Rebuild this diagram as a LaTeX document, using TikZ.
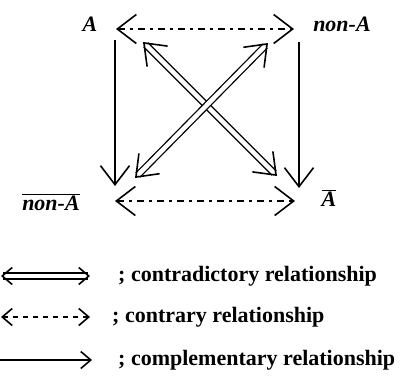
\documentclass[tikz,border=0pt]{standalone}
\usepackage{fontspec}
\setmainfont{Liberation Serif}
\usetikzlibrary{arrows.meta,positioning}

\begin{document}
\begin{tikzpicture}[
  x=1pt,y=-1pt,
  lbl/.style={font=\fontsize{22}{25}\selectfont\bfseries\itshape,inner sep=0pt},
  txt/.style={font=\fontsize{22}{25}\selectfont\bfseries,inner sep=0pt,anchor=west},
  bigbarb/.tip={Straight Barb[length=19pt,width=29pt,line width=1.6pt]},
  diagbarb/.tip={Straight Barb[length=19pt,width=29pt,line width=1.6pt]},
  keybarb/.tip={Straight Barb[length=10pt,width=17pt,line width=1.6pt]},
  compl/.style={-bigbarb,line width=1.6pt},
  contrary/.style={bigbarb-bigbarb,line width=1.6pt,dash pattern=on 7pt off 5pt on 3pt off 5pt},
  contra/.style={double,double distance=4.5pt,line width=1.3pt,shorten <=4pt,shorten >=4pt},
  contratip/.style={diagbarb-diagbarb,line width=1.6pt,dash pattern=on 0pt off 500pt}
]
\useasboundingbox (0,0) rectangle (402,381);

% square corners
\node[lbl] (A) at (90,24) {A};
\node[lbl] (nA) at (342,24) {non-A};
\node[lbl] (nAbar) at (51,202) {$\overline{\hbox{non-A}}$};
\node[lbl] (Abar) at (329,198) {$\overline{\hbox{A}}$};

\coordinate (tl) at (116,29);
\coordinate (tr) at (294,29);
\coordinate (bl) at (115,201);
\coordinate (br) at (295,201);
\coordinate (dtl) at (143,42);
\coordinate (dtr) at (268,43);
\coordinate (dbl) at (135,178);
\coordinate (dbr) at (277,176);
\coordinate (vl) at (115,40);
\coordinate (vlb) at (115,186);
\coordinate (vr) at (299,42);
\coordinate (vrb) at (299,188);

\draw[contrary] (tl)--(tr);
\draw[contrary] (bl)--(br);
\draw[compl] (vl)--(vlb);
\draw[compl] (vr)--(vrb);
\foreach \a/\b in {dtl/dbr,dtr/dbl}{
  \draw[contra] (\a)--(\b);
  \draw[contratip] (\a)--(\b);
}

% legend
\node[txt] (t1) at (118,276) {; contradictory relationship};
\node[txt] (t2) at (112,317) {; contrary relationship};
\node[txt] (t3) at (118,360) {; complementary relationship};
\coordinate (k1) at (1,276);
\coordinate (k2) at (1,317);
\coordinate (k3) at (0,360);

\draw[contra,shorten <=2pt,shorten >=30pt] (k1)--(t1.west);
\draw[contratip,keybarb-keybarb,shorten >=28pt] (k1)--(t1.west);
\draw[contrary,keybarb-keybarb,dash pattern=on 5pt off 5pt,shorten >=22pt] (k2)--(t2.west);
\draw[compl,-keybarb,shorten >=26pt] (k3)--(t3.west);
\end{tikzpicture}
\end{document}
